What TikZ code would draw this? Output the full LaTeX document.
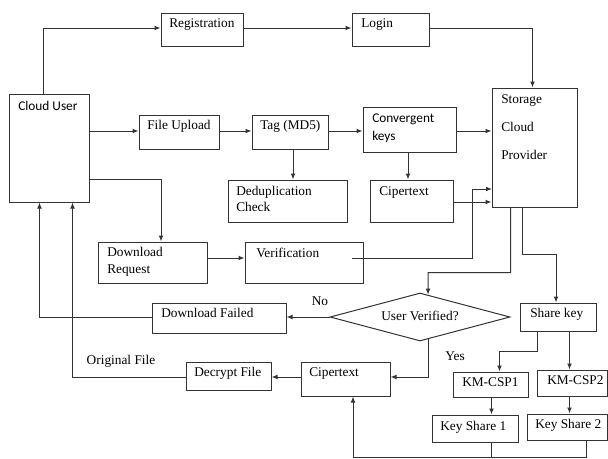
\documentclass[tikz,border=0pt]{standalone}
\usepackage{fontspec}
\setmainfont{Liberation Serif}
\newfontfamily\calib{Carlito}
\usetikzlibrary{arrows.meta,calc,fit,shapes.geometric}
\begin{document}
\begin{tikzpicture}[x=0.75pt,y=-0.75pt,
  box/.style={draw=black!80, line width=0.75pt, inner sep=0pt, fit={#1}},
  txt/.style={anchor=west, inner sep=0pt, text height=7pt, text depth=2pt, font=\fontsize{10}{12}\selectfont},
  lbl/.style={inner sep=0pt, text height=7pt, text depth=2pt, font=\fontsize{10}{12}\selectfont},
  ln/.style={draw=black!80, line width=0.75pt},
  arr/.style={ln, -{Latex[length=4.5pt,width=3.6pt]}}]
\useasboundingbox (0,0) rectangle (608,458);
% boxes
\node[box={(161,13) (243,46)}] (reg) {};
\node[txt] at (169,24) {Registration};
\node[box={(352,13) (429,46)}] (login) {};
\node[txt] at (361,24) {Login};
\node[box={(9,94) (89,202)}] (cu) {};
\node[txt, font=\calib\fontsize{10}{12}\selectfont] at (18,107) {Cloud User};
\node[box={(492,88) (577,207)}] (scp) {};
\node[txt] at (501,100) {Storage};
\node[txt] at (501,128) {Cloud};
\node[txt] at (501,156) {Provider};
\node[box={(139,115) (219,149)}] (fu) {};
\node[txt] at (147,126) {File Upload};
\node[box={(252,115) (328,149)}] (tag) {};
\node[txt] at (260,126) {Tag (MD5)};
\node[box={(363,107) (456,152)}] (conv) {};
\node[txt, font=\calib\fontsize{10}{12}\selectfont] at (372,119) {Convergent};
\node[txt, font=\calib\fontsize{10}{12}\selectfont] at (372,137) {keys};
\node[box={(228,180) (347,222)}] (dedup) {};
\node[txt] at (236,192) {Deduplication};
\node[txt] at (236,208) {Check};
\node[box={(370,180) (453,222)}] (cip1) {};
\node[txt] at (379,192) {Cipertext};
\node[box={(98,242) (207,283)}] (dr) {};
\node[txt] at (107,253) {Download};
\node[txt] at (107,270) {Request};
\node[box={(245,242) (363,283)}] (ver) {};
\node[txt] at (256,254) {Verification};
\node[box={(152,303) (286,333)}] (df) {};
\node[txt] at (161,314) {Download Failed};
\node[draw=black!80, line width=0.75pt, diamond, aspect=3.75, inner sep=0pt,
  minimum width=180*0.75pt, minimum height=48*0.75pt,
  text height=7pt, text depth=2pt, font=\fontsize{10}{12}\selectfont] (dia) at (420,317) {User Verified?};
\node[box={(520,303) (596,331)}] (sk) {};
\node[txt] at (530,314) {Share key};
\node[box={(301,362) (390,396)}] (cip2) {};
\node[txt] at (309,373) {Cipertext};
\node[box={(186,362) (271,390)}] (dec) {};
\node[txt] at (194,373) {Decrypt File};
\node[box={(453,372) (528,397)}] (km1) {};
\node[txt] at (462,383) {KM-CSP1};
\node[box={(537,370) (607,396)}] (km2) {};
\node[txt] at (547,381) {KM-CSP2};
\node[box={(432,415) (518,442)}] (ks1) {};
\node[txt] at (440,427) {Key Share 1};
\node[box={(527,414) (607,440)}] (ks2) {};
\node[txt] at (535,425) {Key Share 2};
% labels
\node[lbl] (no) at (320,302) {No};
\node[lbl] (yes) at (455,357) {Yes};
\node[lbl] (orig) at (121,361) {Original File};
% connectors
\draw[arr] ($(cu.north west)+(35,0)$) |- ($(reg.west)+(0,-1.5)$);
\draw[arr] ($(reg.east)+(0,-1.5)$) -- ($(login.west)+(0,-1.5)$);
\draw[arr] ($(login.east)+(0,-1.5)$) -| ($(scp.north west)+(41,0)$);
\coordinate (row) at (0,131);
\draw[arr] (row -| cu.east) -- (row -| fu.west);
\draw[arr] (row -| fu.east) -- (row -| tag.west);
\draw[arr] (row -| tag.east) -- (row -| conv.west);
\draw[arr] (row -| conv.east) -- (row -| scp.west);
\draw[arr] ($(tag.south)+(3,0)$) -- ($(tag.south |- dedup.north)+(3,0)$);
\draw[arr] ($(conv.south)+(-1.5,0)$) -- ($(conv.south |- cip1.north)+(-1.5,0)$);
\draw[arr] ($(cip1.east)+(0,1)$) -- ($(cip1.east -| scp.west)+(0,1)$);
\coordinate (v1) at (352,258);
\coordinate (vin) at (492,189);
\draw[arr] (v1) -| ($(vin)+(-20,0)$) -- (vin);
\draw[arr] ($(cu.east)+(0,31)$) -| ($(dr.north)+(8.5,0)$);
\draw[arr] ($(dr.east)+(0,-4.5)$) -- ($(ver.west)+(0,-4.5)$);
\draw[arr] ($(scp.south west)+(19,0)$) |- ($(dia.north)+(8,-20)$) -- ($(dia.north)!0.089!(dia.east)$);
\draw[arr] ($(scp.south west)+(31,0)$) |- ($(sk.north)+(-2,-48)$) -- ($(sk.north)+(-2,0)$);
\draw[arr] (dia.west) -- (dia.west -| df.east);
\draw[arr] ($(df.west)+(0,-1)$) -| ($(cu.south west)+(31,0)$);
\draw[arr] ($(dia.south)!0.089!(dia.east)$) |- ($(cip2.east)+(0,-2)$);
\draw[arr] ($(cip2.west)+(0,-2)$) -- ($(cip2.west -| dec.east)+(0,-2)$);
\draw[arr] ($(dec.west)+(0,1)$) -| ($(cu.south west)+(64,0)$);
\draw[arr] ($(sk.south west)+(18,0)$) |- ($(km1.north)+(9,-20)$) -- ($(km1.north)+(9,0)$);
\draw[arr] ($(sk.south west)+(50,0)$) -- ($(km2.north west)+(33,0)$);
\draw[arr] ($(km1.south west)+(39,0)$) -- ($(ks1.north west)+(60,0)$);
\draw[arr] ($(km2.south west)+(33,0)$) -- ($(ks2.north west)+(43,0)$);
\draw[arr] ($(ks2.south west)+(60,0)$) |- ($(cip2.south)+(7.5,61)$) -- ($(cip2.south)+(7.5,0)$);
\draw[ln] ($(ks1.south west)+(60,0)$) -- ($(ks1.south west)+(60,15)$);
\end{tikzpicture}
\end{document}
